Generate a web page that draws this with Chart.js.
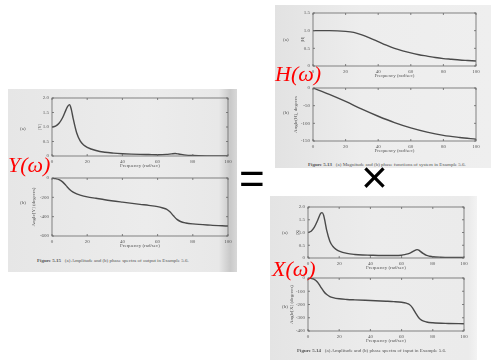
<!DOCTYPE html>
<html><head><meta charset="utf-8">
<script src="https://cdn.jsdelivr.net/npm/chart.js@4"></script>
<style>
html,body{margin:0;padding:0;background:#fff;width:491px;height:360px;overflow:hidden;position:relative;font-family:"Liberation Serif",serif}
.panel{position:absolute}
.cv{position:absolute}
.t{position:absolute;white-space:nowrap;color:#555;font-size:5px;line-height:6px}
.red{position:absolute;color:#ff0000;font-family:"Liberation Serif",serif;font-style:italic;font-size:22px;line-height:22px;white-space:nowrap}
.op{position:absolute;font-family:"Liberation Sans",sans-serif;color:#000;white-space:nowrap;line-height:1}
</style></head><body>
<div class="panel" style="left:8px;top:89px;width:229px;height:183px;background:linear-gradient(90deg,#e6e6e6 0%,#ececec 60%,#e8e8e8 92%,#c9c9c9 97%,#d8d8d8 100%)"></div>
<div class="panel" style="left:275px;top:5px;width:216px;height:163px;background:linear-gradient(90deg,#e2e2e2 0%,#ededed 40%,#efefef 100%)"></div>
<div class="panel" style="left:270px;top:196px;width:207px;height:164px;background:linear-gradient(90deg,#e4e4e4 0%,#ececec 50%,#ebebeb 96%,#f3f3f3 100%)"></div>

<canvas class="cv" id="yMag"></canvas>
<canvas class="cv" id="yPh"></canvas>
<canvas class="cv" id="hMag"></canvas>
<canvas class="cv" id="hPh"></canvas>
<canvas class="cv" id="xMag"></canvas>
<canvas class="cv" id="xPh"></canvas>

<div class="t" style="left:20px;top:126px">(a)</div>
<div class="t" style="left:20px;top:200px">(b)</div>
<div class="t" style="left:283px;top:37px">(a)</div>
<div class="t" style="left:283px;top:110px">(b)</div>
<div class="t" style="left:282px;top:230px">(a)</div>
<div class="t" style="left:282px;top:304px">(b)</div>

<div class="t" style="left:37px;top:258px"><b>Figure 5.15</b>&nbsp;&nbsp; (a) Amplitude and (b) phase spectra of output in Example 5.6.</div>
<div class="t" style="left:308px;top:162px"><b>Figure 5.13</b>&nbsp;&nbsp; (a) Magnitude and (b) phase functions of system in Example 5.6.</div>
<div class="t" style="left:297px;top:348px"><b>Figure 5.14</b>&nbsp;&nbsp; (a) Amplitude and (b) phase spectra of input in Example 5.6.</div>

<div class="red" style="left:8px;top:154px">Y(ω)</div>
<div class="red" style="left:275px;top:63px">H(ω)</div>
<div class="red" style="left:272px;top:258px">X(ω)</div>
<div class="op" style="left:239px;top:157px;font-size:44px">=</div>
<div class="op" style="left:361px;top:154px;font-size:46px">×</div>

<script>
// ---- data ----
const ticksFreq = [0, 20, 40, 60, 80, 100];

// Output Y(ω)
const freqYMag = [0, 2, 4, 6, 8, 9, 10, 11, 12, 14, 16, 18, 20, 25, 30, 35, 40, 45, 50, 55, 60, 65, 68, 70, 72, 75, 80, 90, 100];
const yMag     = [1.0, 1.03, 1.13, 1.32, 1.6, 1.72, 1.77, 1.6, 1.3, 0.8, 0.52, 0.38, 0.3, 0.19, 0.13, 0.1, 0.08, 0.065, 0.055, 0.05, 0.045, 0.055, 0.075, 0.085, 0.07, 0.04, 0.015, 0.005, 0.003];
const freqYPh  = [0, 2, 4, 6, 8, 10, 12, 14, 16, 20, 25, 30, 40, 50, 55, 60, 63, 65, 67, 69, 71, 73, 76, 80, 90, 100];
const yPhase   = [0, -7, -17, -40, -79, -118, -147, -165, -177, -195, -210, -225, -250, -273, -283, -296, -310, -322, -350, -391, -428, -450, -465, -475, -488, -497];

// System H(ω)
const freqH    = [0, 10, 20, 25, 30, 35, 40, 45, 50, 55, 60, 65, 70, 75, 80, 85, 90, 95, 100];
const hMag     = [1.0, 1.0, 0.98, 0.95, 0.88, 0.79, 0.69, 0.59, 0.5, 0.43, 0.37, 0.32, 0.28, 0.24, 0.21, 0.19, 0.17, 0.155, 0.14];
const freqHPh  = [0, 10, 20, 30, 40, 50, 60, 70, 80, 90, 100];
const hPhase   = [0, -18, -38, -60, -80, -98, -113, -125, -134, -140, -145];

// Input X(ω)
const freqXMag = [0, 2, 4, 6, 8, 9, 10, 11, 12, 14, 16, 18, 20, 25, 30, 35, 40, 45, 50, 55, 60, 62, 64, 66, 68, 69, 70, 71, 72, 74, 76, 78, 80, 85, 90, 100];
const xMag     = [1.0, 1.05, 1.2, 1.45, 1.74, 1.78, 1.68, 1.4, 1.08, 0.66, 0.45, 0.34, 0.27, 0.18, 0.14, 0.12, 0.11, 0.1, 0.1, 0.1, 0.11, 0.13, 0.16, 0.21, 0.28, 0.31, 0.33, 0.31, 0.26, 0.17, 0.1, 0.07, 0.05, 0.03, 0.02, 0.02];
const freqXPh  = [0, 2, 4, 6, 8, 10, 12, 14, 16, 20, 25, 30, 40, 50, 55, 60, 63, 65, 67, 69, 71, 73, 76, 80, 90, 100];
const xPhase   = [0, -3, -10, -30, -65, -100, -125, -140, -148, -157, -162, -165, -170, -175, -178, -183, -190, -200, -225, -265, -300, -320, -332, -338, -343, -345];

// ---- drawing ----
const INK = '#555';
const frame = {
  id: 'frame',
  afterDatasetsDraw(c) {
    const {ctx, chartArea: a, scales} = c;
    ctx.save();
    ctx.strokeStyle = '#666';
    ctx.lineWidth = 0.8;
    ctx.strokeRect(a.left, a.top, a.right - a.left, a.bottom - a.top);
    ctx.beginPath();
    scales.x.ticks.forEach(t => {
      const p = scales.x.getPixelForValue(t.value);
      ctx.moveTo(p, a.bottom); ctx.lineTo(p, a.bottom - 2);
      ctx.moveTo(p, a.top); ctx.lineTo(p, a.top + 2);
    });
    scales.y.ticks.forEach(t => {
      const p = scales.y.getPixelForValue(t.value);
      ctx.moveTo(a.left, p); ctx.lineTo(a.left + 2, p);
      ctx.moveTo(a.right, p); ctx.lineTo(a.right - 2, p);
    });
    ctx.stroke();
    ctx.restore();
  }
};

function makeChart(id, fr, vals, yMin, yMax, yStep, yTitle, box, titleGap) {
  const cLeft = box.L - 38, cTop = box.T - 5;
  const w = box.R - cLeft + 7, h = box.B - cTop + 16;
  const cv = document.getElementById(id);
  cv.style.left = cLeft + 'px'; cv.style.top = cTop + 'px';
  cv.width = w; cv.height = h;
  cv.style.width = w + 'px'; cv.style.height = h + 'px';
  const font = {family: '"Liberation Serif", serif', size: 5};
  new Chart(cv, {
    type: 'line',
    data: { datasets: [{
      data: fr.map((f, i) => ({x: f, y: vals[i]})),
      borderColor: '#4a4a4a', borderWidth: 1.4, pointRadius: 0,
      cubicInterpolationMode: 'monotone', fill: false
    }]},
    options: {
      responsive: false, animation: false, events: [],
      layout: {padding: {top: 5, right: 7, left: 0, bottom: 0}},
      plugins: {legend: {display: false}, tooltip: {enabled: false}},
      scales: {
        x: {
          type: 'linear', min: 0, max: 100,
          afterBuildTicks: s => { s.ticks = ticksFreq.map(v => ({value: v})); },
          afterFit: s => { s.height = 16; },
          grid: {display: false, drawTicks: false},
          border: {display: false},
          ticks: {font, color: INK, padding: 3, maxRotation: 0},
          title: {display: true, text: 'Frequency (rad/sec)', font, color: INK, padding: {top: 0, bottom: 3}}
        },
        y: {
          type: 'linear', min: yMin, max: yMax,
          afterFit: s => { s.width = 38; },
          grid: {display: false, drawTicks: false},
          border: {display: false},
          ticks: {font, color: INK, padding: 3, stepSize: yStep},
          title: {display: true, text: yTitle, font, color: INK, padding: {top: 38 - titleGap - 3, bottom: 0}}
        }
      }
    },
    plugins: [frame]
  });
}

makeChart('yMag', freqYMag, yMag, 0, 2, 0.5, '|Y|', {L: 52, T: 97, R: 228, B: 156}, 12);
makeChart('yPh', freqYPh, yPhase, -600, 0, 200, 'Angle[Y] (degrees)', {L: 52, T: 177, R: 228, B: 236}, 18);
makeChart('hMag', freqH, hMag, 0, 1.5, 0.5, '|H|', {L: 313, T: 12, R: 476, B: 66}, 10);
makeChart('hPh', freqHPh, hPhase, -150, 0, 50, 'Angle(H), degrees', {L: 313, T: 87, R: 476, B: 141}, 17);
makeChart('xMag', freqXMag, xMag, 0, 2, 0.5, '|X|', {L: 308, T: 206, R: 464, B: 258}, 10);
makeChart('xPh', freqXPh, xPhase, -400, 0, 100, 'Angle[X] (degrees)', {L: 308, T: 277, R: 464, B: 331}, 16);
</script>
</body></html>
